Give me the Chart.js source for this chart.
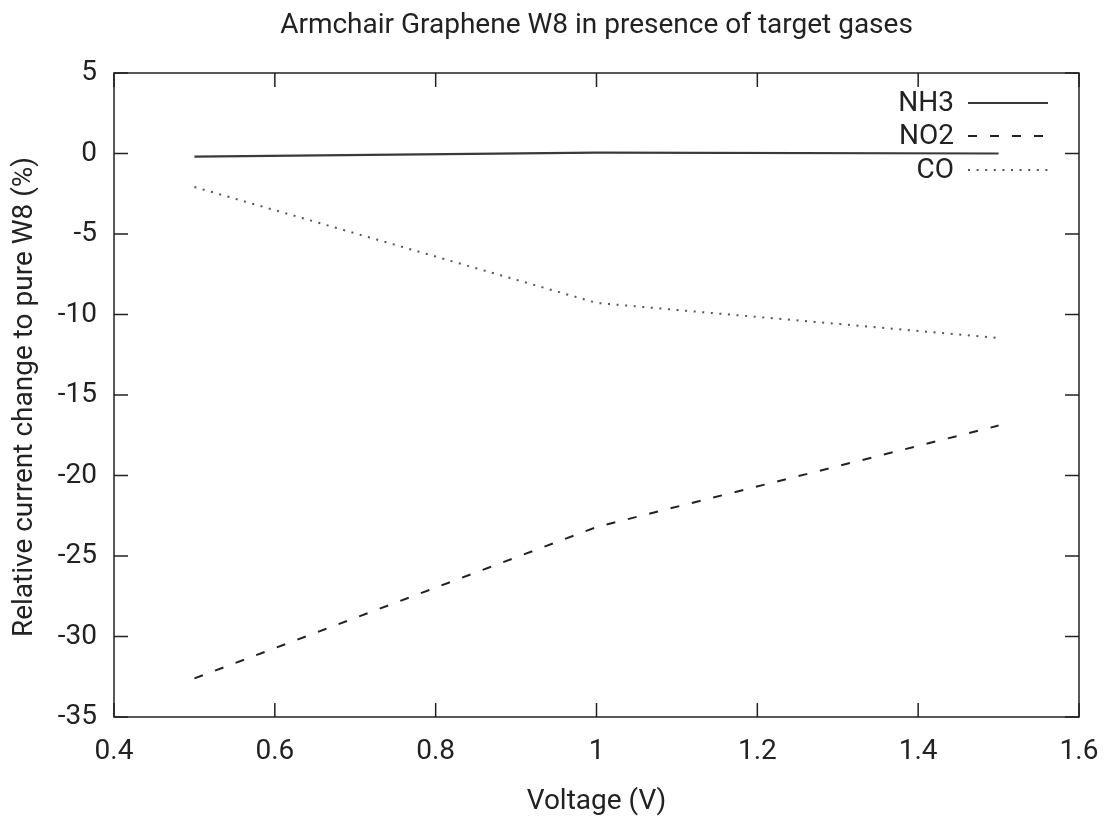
<!DOCTYPE html>
<html>
<head>
<meta charset="utf-8">
<title>Armchair Graphene W8 in presence of target gases</title>
<script src="https://cdn.jsdelivr.net/npm/chart.js@4.4.1/dist/chart.umd.min.js"></script>
<style>
  html, body { margin: 0; padding: 0; background: #fff; }
  #wrap { width: 1106px; height: 820px; }
</style>
</head>
<body>
<div id="wrap"><canvas id="c" width="1106" height="820"></canvas></div>
<script>
// Bias voltage (V) and relative current change (%) for each gas
const voltages = [0.5, 1.0, 1.5];
const nh3 = [-0.2, 0.05, 0.0];
const no2 = [-32.6, -23.2, -16.9];
const co  = [-2.08, -9.28, -11.46];

const seriesNames = ['NH3', 'NO2', 'CO'];
const xTicks = [0.4, 0.6, 0.8, 1.0, 1.2, 1.4, 1.6];
const yTicks = [-35, -30, -25, -20, -15, -10, -5, 0, 5];

const titleText = 'Armchair Graphene W8 in presence of target gases';
const xTitle = 'Voltage (V)';
const yTitle = 'Relative current change to pure W8 (%)';

const FONT = 'Roboto, "Noto Sans", sans-serif';
const FS = 28;
const INK = '#222';

function pts(ys) { return voltages.map((v, i) => ({ x: v, y: ys[i] })); }

// Frame, mirrored inward ticks, titles and the key in the top-right corner
const gnuplotLook = {
  id: 'gnuplotLook',
  afterDatasetsDraw(chart) {
    const { ctx, chartArea: a, scales } = chart;
    const tl = 14;
    ctx.save();
    ctx.strokeStyle = INK;
    ctx.lineWidth = 1.5;
    ctx.strokeRect(a.left, a.top, a.right - a.left, a.bottom - a.top);
    ctx.beginPath();
    xTicks.forEach(v => {
      const px = scales.x.getPixelForValue(v);
      ctx.moveTo(px, a.bottom); ctx.lineTo(px, a.bottom - tl);
      ctx.moveTo(px, a.top); ctx.lineTo(px, a.top + tl);
    });
    yTicks.forEach(v => {
      const py = scales.y.getPixelForValue(v);
      ctx.moveTo(a.left, py); ctx.lineTo(a.left + tl, py);
      ctx.moveTo(a.right, py); ctx.lineTo(a.right - tl, py);
    });
    ctx.stroke();

    // key
    ctx.font = FS + 'px ' + FONT;
    ctx.fillStyle = INK;
    ctx.textAlign = 'right';
    ctx.textBaseline = 'middle';
    const keyY = [103, 136, 170];
    chart.data.datasets.forEach((ds, i) => {
      const y = keyY[i];
      ctx.fillText(ds.label, 954, y + 1);
      ctx.save();
      ctx.strokeStyle = ds.borderColor;
      ctx.lineWidth = ds.borderWidth;
      ctx.setLineDash(ds.borderDash || []);
      ctx.beginPath();
      ctx.moveTo(968, y);
      ctx.lineTo(1048, y);
      ctx.stroke();
      ctx.restore();
    });

    // titles
    ctx.textAlign = 'center';
    ctx.fillText(titleText, (a.left + a.right) / 2, 26);
    ctx.fillText(xTitle, (a.left + a.right) / 2, 802);
    ctx.translate(25, 397);
    ctx.rotate(-Math.PI / 2);
    ctx.fillText(yTitle, 0, 0);
    ctx.restore();
  }
};

new Chart(document.getElementById('c'), {
  type: 'line',
  data: {
    datasets: [
      { label: seriesNames[0], data: pts(nh3), borderColor: '#3a3a3a', borderWidth: 2.2 },
      { label: seriesNames[1], data: pts(no2), borderColor: '#222', borderWidth: 2, borderDash: [9, 13] },
      { label: seriesNames[2], data: pts(co), borderColor: '#555', borderWidth: 2, borderDash: [2, 6.6] }
    ]
  },
  options: {
    responsive: false,
    animation: false,
    devicePixelRatio: 1,
    elements: { point: { radius: 0 }, line: { tension: 0, fill: false } },
    layout: { padding: { top: 73, right: 27, left: 0, bottom: 0 } },
    plugins: { legend: { display: false }, title: { display: false }, tooltip: { enabled: false } },
    scales: {
      x: {
        type: 'linear', min: 0.4, max: 1.6,
        afterBuildTicks(s) { s.ticks = xTicks.map(v => ({ value: v })); },
        afterFit(s) { s.height = 103; s.paddingLeft = 0; s.paddingRight = 0; },
        grid: { display: false, drawTicks: false },
        border: { display: false },
        ticks: {
          padding: 18, color: INK, font: { family: FONT, size: FS },
          callback: v => String(Math.round(v * 10) / 10)
        }
      },
      y: {
        type: 'linear', min: -35, max: 5,
        afterBuildTicks(s) { s.ticks = yTicks.map(v => ({ value: v })); },
        afterFit(s) { s.width = 114; s.paddingTop = 0; s.paddingBottom = 0; },
        grid: { display: false, drawTicks: false },
        border: { display: false },
        ticks: { padding: 17, color: INK, font: { family: FONT, size: FS } }
      }
    }
  },
  plugins: [gnuplotLook]
});
</script>
</body>
</html>
